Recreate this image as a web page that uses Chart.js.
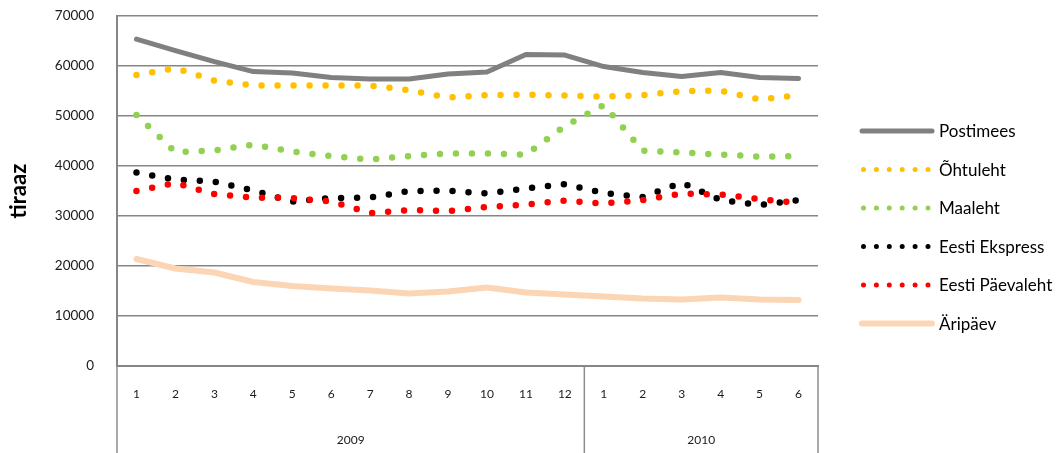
<!DOCTYPE html>
<html><head><meta charset="utf-8">
<script src="https://cdn.jsdelivr.net/npm/chart.js@4/dist/chart.umd.min.js"></script>
<style>html,body{margin:0;padding:0;background:#fff}canvas{display:block}</style>
</head><body>
<canvas id="c" width="1058" height="453"></canvas>
<script>
// ---- data ----
const monthLabels = ['1','2','3','4','5','6','7','8','9','10','11','12','1','2','3','4','5','6'];
const yearLabels = ['2009','2010'];
const yearSpans = [12, 6];
const yTickValues = [0,10000,20000,30000,40000,50000,60000,70000];
const seriesNames = ['Postimees','Õhtuleht','Maaleht','Eesti Ekspress','Eesti Päevaleht','Äripäev'];
const postimees     = [65400,63100,60900,58900,58600,57700,57400,57400,58400,58800,62300,62200,59900,58700,57900,58700,57700,57500];
const ohtuleht      = [58200,59600,57100,56100,56100,56100,56100,55200,53700,54200,54300,54100,53900,54200,55000,55100,53300,54200];
const maaleht       = [50200,42800,43100,44300,42900,42000,41300,42000,42500,42500,42300,48000,52200,43100,42700,42300,41900,42000];
const eestiEkspress = [38700,37300,36900,35100,32900,33600,33700,35000,35100,34500,35500,36400,34600,33800,36700,33200,32200,33200];
const eestiPaevaleht= [35000,36600,34400,33700,33600,32900,30600,31200,31000,31800,32300,33100,32500,33200,34500,34300,33400,32600];
const aripaev       = [21400,19500,18700,16800,16000,15500,15100,14500,14900,15700,14700,14300,13900,13500,13300,13700,13300,13200];
const seriesValues = [postimees, ohtuleht, maaleht, eestiEkspress, eestiPaevaleht, aripaev];

// ---- styles ----
const FONT = 'Lato, "Open Sans", sans-serif';
const styles = [
  {color:'#808080', width:5,   dash:[],      legendWidth:5,   legendDash:[]},
  {color:'#FFC000', width:6.5, dash:[0,16],  legendWidth:5,   legendDash:[0,12.9]},
  {color:'#92D050', width:6.5, dash:[0,16],  legendWidth:5,   legendDash:[0,12.9]},
  {color:'#000000', width:6.5, dash:[0,16],  legendWidth:5,   legendDash:[0,12.9]},
  {color:'#FF0000', width:6.5, dash:[0,16],  legendWidth:5,   legendDash:[0,12.9]},
  {color:'#FCD5B5', width:6,   dash:[],      legendWidth:6,   legendDash:[]}
];

const datasets = seriesNames.map((name, i) => ({
  label: name,
  data: seriesValues[i],
  borderColor: styles[i].color,
  backgroundColor: styles[i].color,
  borderWidth: styles[i].width,
  borderDash: styles[i].dash,
  borderCapStyle: 'round',
  borderJoinStyle: 'round',
  pointRadius: 0,
  fill: false,
  tension: 0,
  order: seriesNames.length - i
}));

const groupAxis = {
  id: 'groupAxis',
  afterDraw(chart) {
    const {ctx, chartArea: a, scales: {x}} = chart;
    const bottom = chart.height;
    ctx.save();
    ctx.strokeStyle = '#8c8c8c';
    ctx.lineWidth = 1.5;
    const bounds = [a.left];
    let idx = 0;
    yearSpans.forEach(n => {
      idx += n;
      const px = idx < monthLabels.length
        ? (x.getPixelForValue(idx - 1) + x.getPixelForValue(idx)) / 2
        : a.right;
      bounds.push(px);
    });
    bounds.forEach(px => {
      ctx.beginPath();
      ctx.moveTo(px, a.bottom);
      ctx.lineTo(px, bottom);
      ctx.stroke();
    });
    ctx.fillStyle = '#1a1a1a';
    ctx.font = '12px ' + FONT;
    ctx.textAlign = 'center';
    ctx.textBaseline = 'middle';
    yearLabels.forEach((yl, i) => {
      ctx.fillText(yl, (bounds[i] + bounds[i + 1]) / 2, a.bottom + 74);
    });
    ctx.restore();
  }
};

const customLegend = {
  id: 'customLegend',
  afterDraw(chart) {
    const ctx = chart.ctx;
    const a = chart.chartArea;
    const x0 = a.right + 44, x1 = a.right + 114, tx = a.right + 121;
    const y0 = 131, step = 38.5;
    ctx.save();
    chart.data.datasets.forEach((ds, i) => {
      const y = y0 + i * step;
      const st = styles[i];
      ctx.beginPath();
      ctx.setLineDash(st.legendDash);
      ctx.lineCap = 'round';
      ctx.strokeStyle = st.color;
      ctx.lineWidth = st.legendWidth;
      ctx.moveTo(x0 + (st.legendDash.length ? 1.5 : 0), y);
      ctx.lineTo(x1, y);
      ctx.stroke();
      ctx.setLineDash([]);
      ctx.fillStyle = '#000';
      ctx.font = '17px ' + FONT;
      ctx.textAlign = 'left';
      ctx.textBaseline = 'middle';
      ctx.fillText(ds.label, tx, y + 1);
    });
    ctx.restore();
  }
};

new Chart(document.getElementById('c'), {
  type: 'line',
  data: { labels: monthLabels, datasets },
  plugins: [groupAxis, customLegend],
  options: {
    responsive: false,
    animation: false,
    devicePixelRatio: 1,
    layout: { padding: { top: 0, right: 240, left: 0, bottom: 0 } },
    plugins: { legend: { display: false }, tooltip: { enabled: false } },
    scales: {
      x: {
        type: 'category',
        offset: true,
        grid: { display: false, drawTicks: false },
        border: { display: true, color: '#868686', width: 2 },
        ticks: { font: { family: FONT, size: 12 }, color: '#1a1a1a', padding: 21, maxRotation: 0, autoSkip: false },
        afterFit(s) { s.height = 87; }
      },
      y: {
        min: 0, max: 70000,
        afterBuildTicks(s) { s.ticks = yTickValues.map(v => ({ value: v })); },
        grid: { color: '#868686', lineWidth: 1.5, drawTicks: true, tickLength: 15, tickColor: 'rgba(0,0,0,0)' },
        border: { display: true, color: '#868686', width: 2 },
        ticks: { font: { family: FONT, size: 13.5 }, color: '#1a1a1a', padding: 8, callback: v => String(v) },
        title: { display: true, text: 'tiraaz', font: { family: FONT, size: 22, weight: 'bold' }, color: '#000', padding: { top: 6, bottom: 0 } },
        afterFit(s) { s.width = 117; }
      }
    }
  }
});
</script>
</body></html>
